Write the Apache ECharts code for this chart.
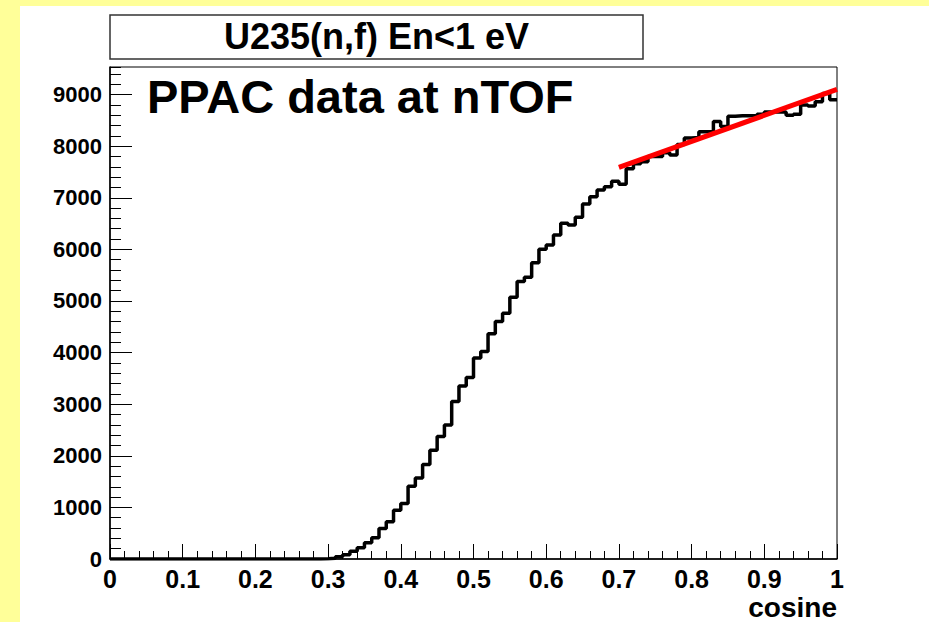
<!DOCTYPE html>
<html><head><meta charset="utf-8">
<script src="https://cdn.jsdelivr.net/npm/echarts@6/dist/echarts.min.js"></script>
<style>html,body{margin:0;padding:0;background:#fff}#c{width:929px;height:622px}</style>
</head><body><div id="c"></div>
<script>
const titleText = 'U235(n,f) En<1 eV';
const noteText = 'PPAC data at nTOF';
const xName = 'cosine';
const binWidth = 0.01;
const xMin = 0, xMax = 1;
const yMin = 0, yMax = 9534;
const xTickLabels = ['0','0.1','0.2','0.3','0.4','0.5','0.6','0.7','0.8','0.9','1'];
const yTickLabels = ['0','1000','2000','3000','4000','5000','6000','7000','8000','9000'];
// counts per cosine bin (100 bins of width 0.01)
const counts = [
  0,0,0,0,0,0,0,0,0,0,
  0,0,0,0,0,0,0,0,0,0,
  0,0,0,0,0,0,0,0,0,5,
  15,45,80,150,217,313,410,590,720,944,
  1074,1409,1571,1829,2105,2376,2597,3053,3350,3518,
  3893,4021,4363,4601,4764,5073,5375,5461,5743,6002,
  6085,6279,6505,6473,6622,6879,7020,7150,7213,7320,
  7260,7560,7660,7700,7800,7800,7870,7830,8030,8160,
  8170,8280,8280,8480,8380,8580,8590,8590,8590,8620,
  8660,8660,8660,8600,8620,8800,8780,8860,9020,8900
];
// linear fit between cosine 0.7 and 1
const fitX = [0.70, 1.00];
const fitY = [7590, 9100];

const histData = counts.map((v, i) => [+(i * binWidth).toFixed(2), v]);
histData.push([xMax, counts[counts.length - 1]]);
const fitData = fitX.map((x, i) => [x, fitY[i]]);

const FONT = '"Liberation Sans", Arial, Helvetica, sans-serif';
const chart = echarts.init(document.getElementById('c'), null, {renderer: 'svg'});
chart.setOption({
  animation: false,
  backgroundColor: '#ffffff',
  grid: {left: 110, top: 67, right: 92, bottom: 63, containLabel: false, outerBoundsMode: 'none',
    show: true, borderColor: '#000', borderWidth: 1, backgroundColor: '#fff'},
  xAxis: {
    type: 'value', min: xMin, max: xMax, interval: 0.1,
    axisLine: {show: true, onZero: false, lineStyle: {color: '#000', width: 1.5}},
    axisTick: {show: true, inside: true, length: 15, lineStyle: {color: '#000', width: 1}},
    minorTick: {show: true, splitNumber: 5, length: 8, lineStyle: {color: '#000', width: 1}},
    splitLine: {show: false}, minorSplitLine: {show: false},
    axisLabel: {fontFamily: FONT, fontWeight: 'bold', fontSize: 25, color: '#000', margin: 7,
      formatter: v => xTickLabels[Math.round(v * 10)]}
  },
  yAxis: [{
    type: 'value', min: yMin, max: yMax, interval: 1000,
    axisLine: {show: true, onZero: false, lineStyle: {color: '#000', width: 1.5}},
    axisTick: {show: true, inside: true, length: 22, lineStyle: {color: '#000', width: 1}},
    splitLine: {show: false},
    axisLabel: {fontFamily: FONT, fontWeight: 'bold', fontSize: 22, color: '#000', margin: 8, showMaxLabel: false,
      formatter: v => { const k = Math.round(v / 1000); return (v % 1000 === 0 && k < yTickLabels.length) ? yTickLabels[k] : ''; }}
  }, {
    type: 'value', min: yMin, max: yMax, interval: 200, position: 'left',
    axisLine: {show: false},
    axisTick: {show: true, inside: true, length: 11, lineStyle: {color: '#000', width: 1}},
    axisLabel: {show: false}, splitLine: {show: false}
  }],
  series: [{
    type: 'line', data: histData, step: 'end', symbol: 'none', yAxisIndex: 0,
    lineStyle: {color: '#000', width: 3.5}, z: 3
  }, {
    type: 'line', data: fitData, symbol: 'none', yAxisIndex: 0,
    lineStyle: {color: '#ff0000', width: 5}, z: 4
  }],
  graphic: [
    {type: 'rect', shape: {x: 0, y: 0, width: 929, height: 6}, style: {fill: '#ffff99'}, silent: true},
    {type: 'rect', shape: {x: 0, y: 0, width: 20, height: 622}, style: {fill: '#ffff99'}, silent: true},
    {type: 'rect', shape: {x: 110, y: 15, width: 533, height: 44}, style: {fill: '#fff', stroke: '#333', lineWidth: 1.5}},
    {type: 'text', x: 376.5, y: 36, style: {text: titleText, fontFamily: FONT, fontWeight: 'bold', fontSize: 36, fill: '#000', textAlign: 'center', textVerticalAlign: 'middle'}},
    {type: 'text', x: 147, y: 96, z: 10, style: {text: noteText, fontFamily: FONT, fontWeight: 'bold', fontSize: 47, fill: '#000', textAlign: 'left', textVerticalAlign: 'middle'}},
    {type: 'text', x: 837, y: 607, style: {text: xName, fontFamily: FONT, fontWeight: 'bold', fontSize: 28, fill: '#000', textAlign: 'right', textVerticalAlign: 'middle'}}
  ]
});
</script></body></html>
